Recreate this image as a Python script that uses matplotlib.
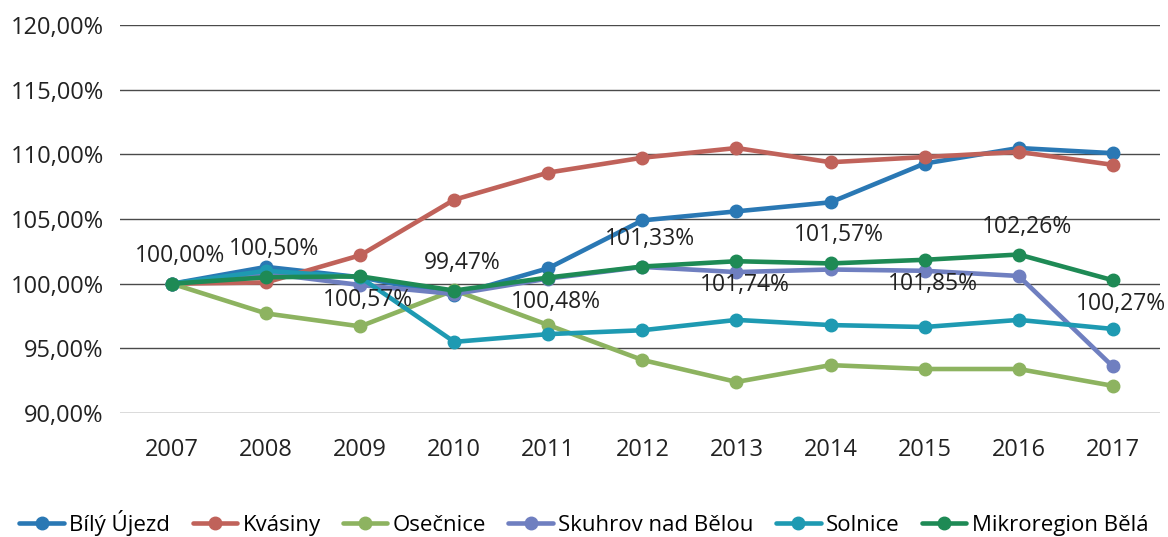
import matplotlib
matplotlib.use("Agg")
import matplotlib.pyplot as plt
from matplotlib.ticker import FuncFormatter

plt.rcParams['font.family'] = ['Open Sans', 'DejaVu Sans']

years = ["2007", "2008", "2009", "2010", "2011", "2012", "2013", "2014", "2015", "2016", "2017"]

bily_ujezd = [100.0, 101.3, 100.5, 99.1, 101.2, 104.9, 105.6, 106.3, 109.3, 110.5, 110.1]
kvasiny = [100.0, 100.1, 102.2, 106.5, 108.6, 109.75, 110.5, 109.4, 109.8, 110.2, 109.2]
osecnice = [100.0, 97.7, 96.7, 99.5, 96.8, 94.1, 92.4, 93.7, 93.4, 93.4, 92.1]
skuhrov = [100.0, 100.8, 99.9, 99.2, 100.4, 101.3, 100.9, 101.1, 101.0, 100.6, 93.6]
solnice = [100.0, 101.0, 100.5, 95.5, 96.1, 96.4, 97.2, 96.8, 96.65, 97.2, 96.5]
mikroregion = [100.00, 100.50, 100.57, 99.47, 100.48, 101.33, 101.74, 101.57, 101.85, 102.26, 100.27]

series_names = ["Bílý Újezd", "Kvásiny", "Osečnice", "Skuhrov nad Bělou", "Solnice", "Mikroregion Bělá"]
series_values = [bily_ujezd, kvasiny, osecnice, skuhrov, solnice, mikroregion]
colors = ["#2A78B4", "#C0625A", "#8DB360", "#6F7FC0", "#1E9AB2", "#1E8A55"]

fig = plt.figure(figsize=(11.68, 5.37), dpi=100)
ax = fig.add_axes([0.103, 0.231, 0.890, 0.722])

x = list(range(len(years)))
for name, vals, c in zip(series_names, series_values, colors):
    ax.plot(x, vals, color=c, lw=3.3, marker='o', markersize=9, label=name,
            solid_capstyle='round', zorder=3)

def fmt(v):
    return f"{v:.2f}".replace(".", ",") + "%"

above_idx = (0, 1, 3, 5, 7, 9)
for i, v in enumerate(mikroregion):
    dy = 28 if i in above_idx else -24
    ax.annotate(fmt(v), (i, v), xytext=(8, dy), textcoords='offset pixels',
                ha='center', va='center', fontsize=16.5, color='#222222', zorder=5)

ax.set_xlim(-0.55, len(years) - 0.5)
ax.set_ylim(90, 120)
ax.set_yticks([90, 95, 100, 105, 110, 115, 120])
ax.yaxis.set_major_formatter(FuncFormatter(lambda v, p: f"{v:.2f}".replace(".", ",") + "%"))
ax.set_xticks(x)
ax.set_xticklabels(years)
ax.grid(axis='y', color='#4a4a4a', lw=1.0, zorder=0)
for s in ax.spines.values():
    s.set_visible(False)
ax.tick_params(axis='both', length=0, labelsize=17, colors='#222222')
ax.tick_params(axis='x', pad=18)
ax.tick_params(axis='y', pad=12)

fig.legend(loc='lower center', bbox_to_anchor=(0.5, -0.035), ncol=6, frameon=False,
           fontsize=16, handlelength=2.0, handletextpad=0.25, columnspacing=1.0)

fig.savefig("out.png", dpi=100)
